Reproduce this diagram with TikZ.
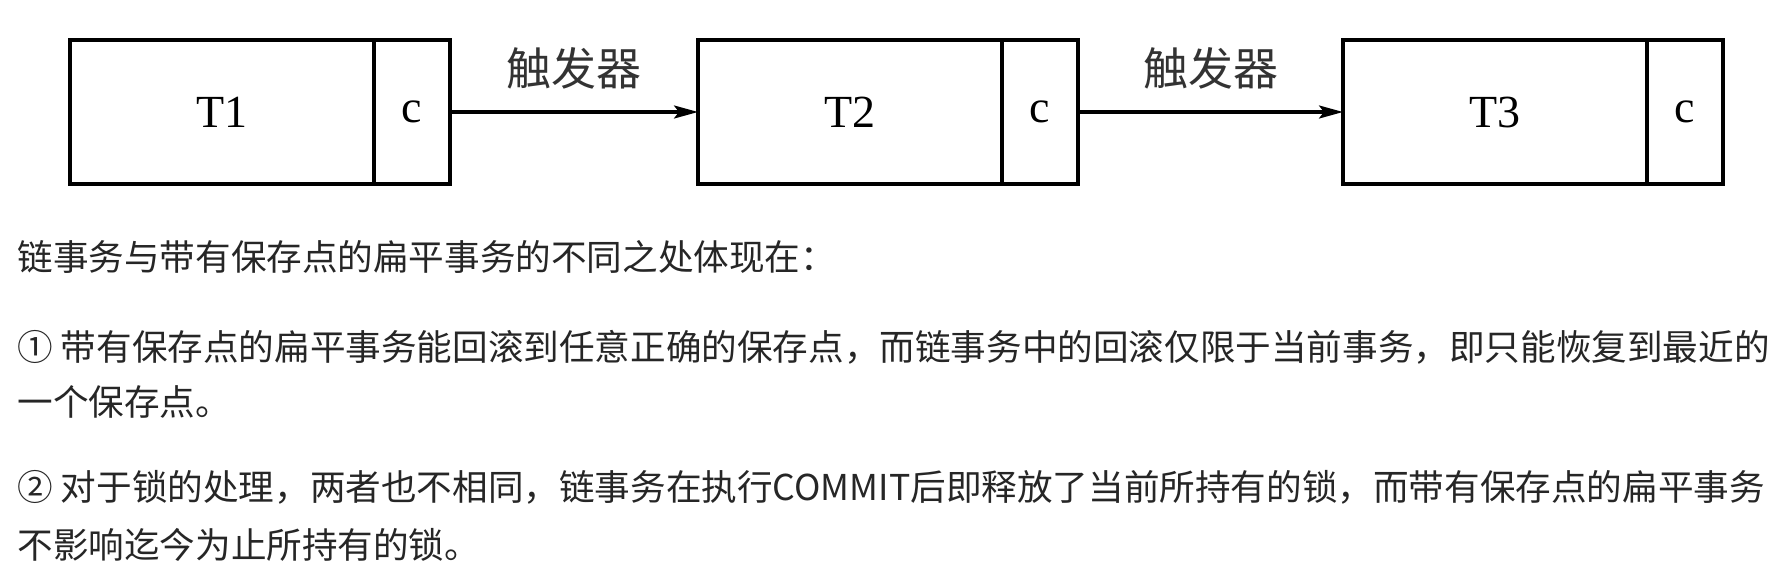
\documentclass[tikz,border=0pt]{standalone}
\usepackage{fontspec}
\usetikzlibrary{arrows.meta}
\newfontfamily\cjkfont{Noto Sans CJK SC}
\newfontfamily\boxfont{Liberation Serif}

\begin{document}
\begin{tikzpicture}[x = 0.5pt, y = -0.5pt]
\tikzstyle{partStyle} = [draw, line width = 2.4pt, inner sep = 0pt, outer sep = 0pt, minimum height = 72pt, font = \boxfont\fontsize{23}{23}\selectfont]
\tikzstyle{mainStyle} = [partStyle, minimum width = 152pt]
\tikzstyle{commitStyle} = [partStyle, minimum width = 38pt, anchor = west]
\tikzstyle{triggerStyle} = [line width = 1.6pt, -{Stealth[length = 12pt, width = 6.5pt, inset = 2.5pt]}]
\tikzstyle{triggerLabel} = [midway, yshift = 22pt, text = black!80, font = \cjkfont\fontsize{22.5}{22.5}\selectfont]
\tikzstyle{lineStyle} = [anchor = west, inner sep = 0pt, text = black!85, font = \cjkfont\fontsize{17.8}{17.8}\selectfont]
\useasboundingbox[fill = white] (0, 0) rectangle (1768, 578);
\node[mainStyle] (t1) at (222, 112) {T1};
\node[commitStyle] (c1) at (t1.east) {c};
\node[mainStyle] (t2) at (850, 112) {T2};
\node[commitStyle] (c2) at (t2.east) {c};
\node[mainStyle] (t3) at (1495, 112) {T3};
\node[commitStyle] (c3) at (t3.east) {c};
\draw[triggerStyle] (c1) -- (t2) node[triggerLabel] {触发器};
\draw[triggerStyle] (c2) -- (t3) node[triggerLabel] {触发器};
\node[lineStyle] (l1) at (17, 257) {链事务与带有保存点的扁平事务的不同之处体现在：};
\node[lineStyle] (l2) at (17, 347) {① 带有保存点的扁平事务能回滚到任意正确的保存点，而链事务中的回滚仅限于当前事务，即只能恢复到最近的};
\node[lineStyle] (l3) at (17, 402) {一个保存点。};
\node[lineStyle] (l4) at (17, 487) {② 对于锁的处理，两者也不相同，链事务在执行COMMIT后即释放了当前所持有的锁，而带有保存点的扁平事务};
\node[lineStyle] (l5) at (17, 545) {不影响迄今为止所持有的锁。};
\end{tikzpicture}
\end{document}
